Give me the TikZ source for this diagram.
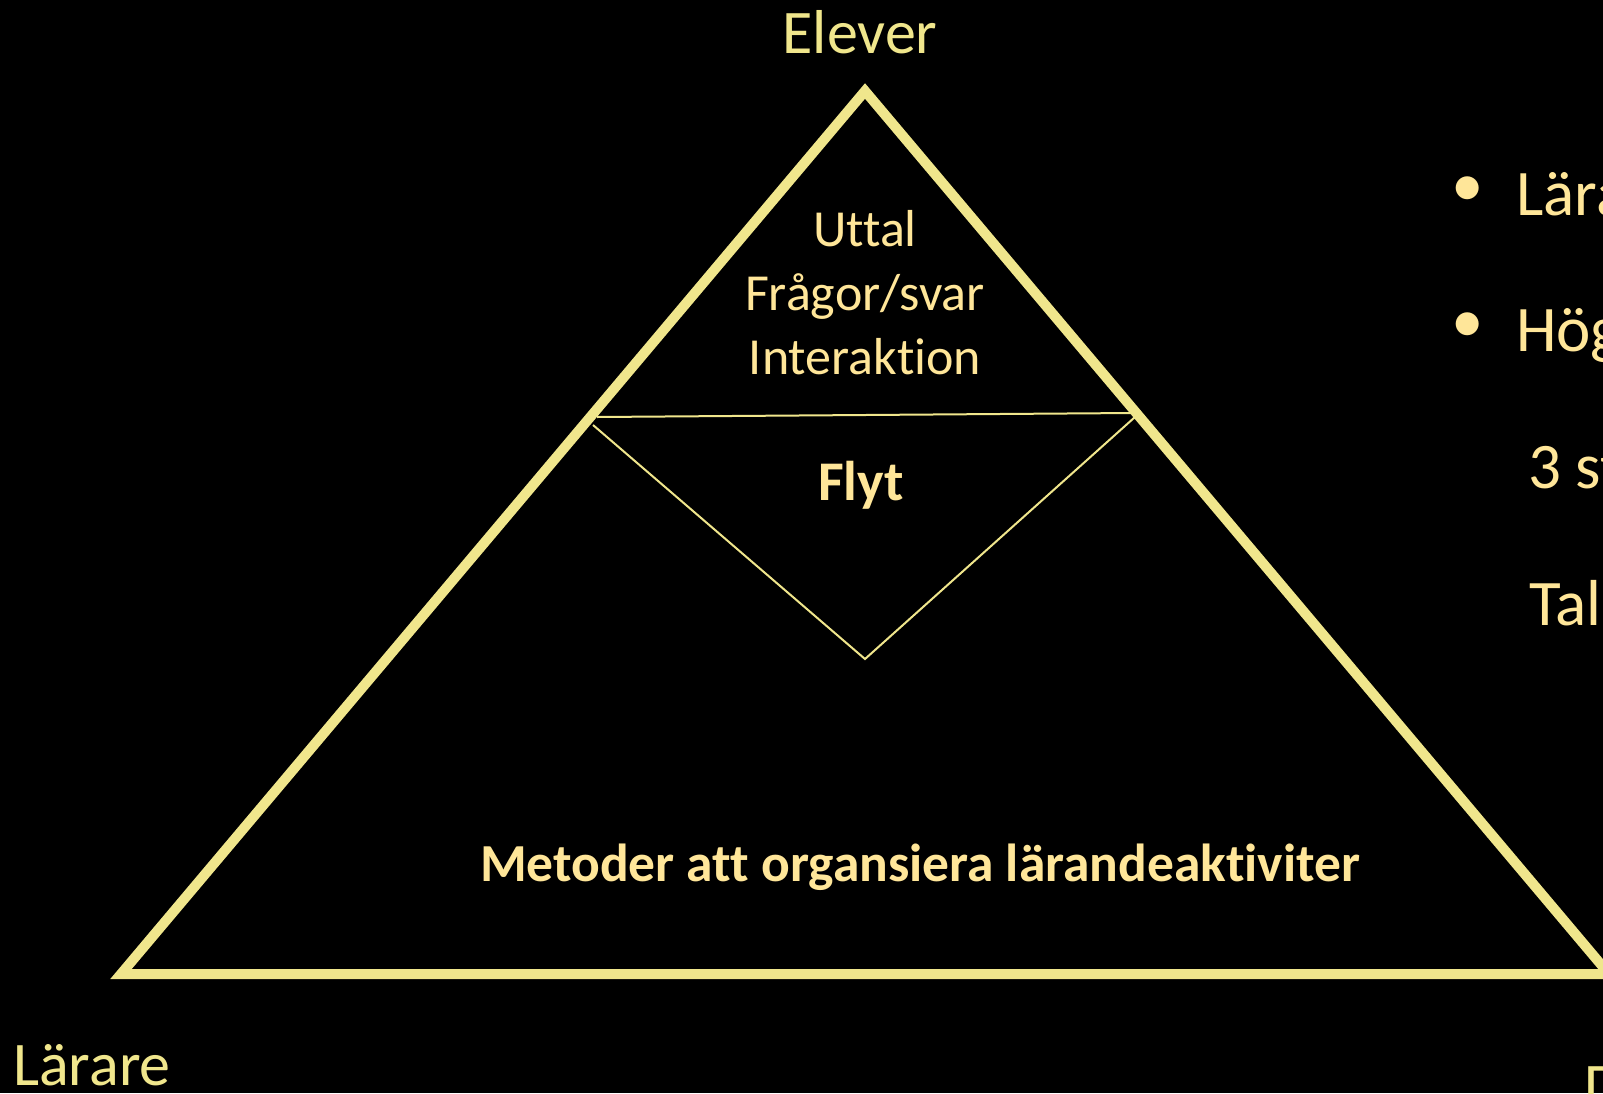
\documentclass[tikz,border=0pt]{standalone}
\usepackage{fontspec}
\setmainfont{Carlito}[Ligatures=NoCommon]
\definecolor{khaki}{RGB}{240,230,140}
\definecolor{pale}{RGB}{255,230,153}
\tikzset{
	corner/.style={text=khaki,inner sep=0pt,font=\fontsize{62}{74}\selectfont},
	inside/.style={text=pale,inner sep=0pt,align=center,font=\fontsize{52}{64}\selectfont},
	heading/.style={text=pale,inner sep=0pt,font=\fontsize{#1}{#1}\selectfont\bfseries},
	point/.style={text=pale,inner sep=0pt,anchor=base west,font=\fontsize{65}{78}\selectfont},
	thickedge/.style={draw=khaki,line width=10pt,line join=miter},
	thinedge/.style={draw=khaki,line width=2pt}
}
\begin{document}
\begin{tikzpicture}[x=1pt,y=-1pt]
	\fill[black] (0,0) rectangle (1603,1093);
	\clip (0,0) rectangle (1603,1093);

	% corners of the triangle
	\coordinate (top) at (865,91);
	\coordinate (left) at (121,974);
	\coordinate (right) at (1609,974);
	\draw[thickedge] (top) -- (right) -- (left) -- cycle;

	% the band under the top and the wedge below it
	\coordinate (bandl) at (597,417);
	\coordinate (bandr) at (1133,413);
	\coordinate (wedgel) at (593,425);
	\coordinate (wedger) at (1135,417);
	\coordinate (wedgeb) at (865,659);
	\draw[thinedge] (bandl) -- (bandr);
	\draw[thinedge] (wedgel) -- (wedgeb) -- (wedger);

	\node[corner] (elever) at (860,32) {Elever};
	\node[corner,anchor=base west] (larare) at (13,1085) {Lärare};
	\node[corner,anchor=base west] (third) at (1584,1106) {D};

	\node[inside] (uttal) at (865,293) {Uttal\\Frågor/svar\\Interaktion};
	\node[heading=56] (flyt) at (861,485) {Flyt};
	\node[heading=53.5] (metoder) at (920,867) {Metoder att organsiera lärandeaktiviter};

	% points listed to the right
	\node[text=pale,inner sep=0pt,font=\fontsize{65}{78}\selectfont] (dot1) at (1468,192) {•};
	\node[text=pale,inner sep=0pt,font=\fontsize{65}{78}\selectfont] (dot2) at (1468,328) {•};
	\node[point] (p1) at (1516,215) {Lära};
	\node[point] (p2) at (1516,351) {Hög};
	\node[point] (p3) at (1528,488) {3 st};
	\node[point] (p4) at (1529,625) {Tal};
\end{tikzpicture}
\end{document}
